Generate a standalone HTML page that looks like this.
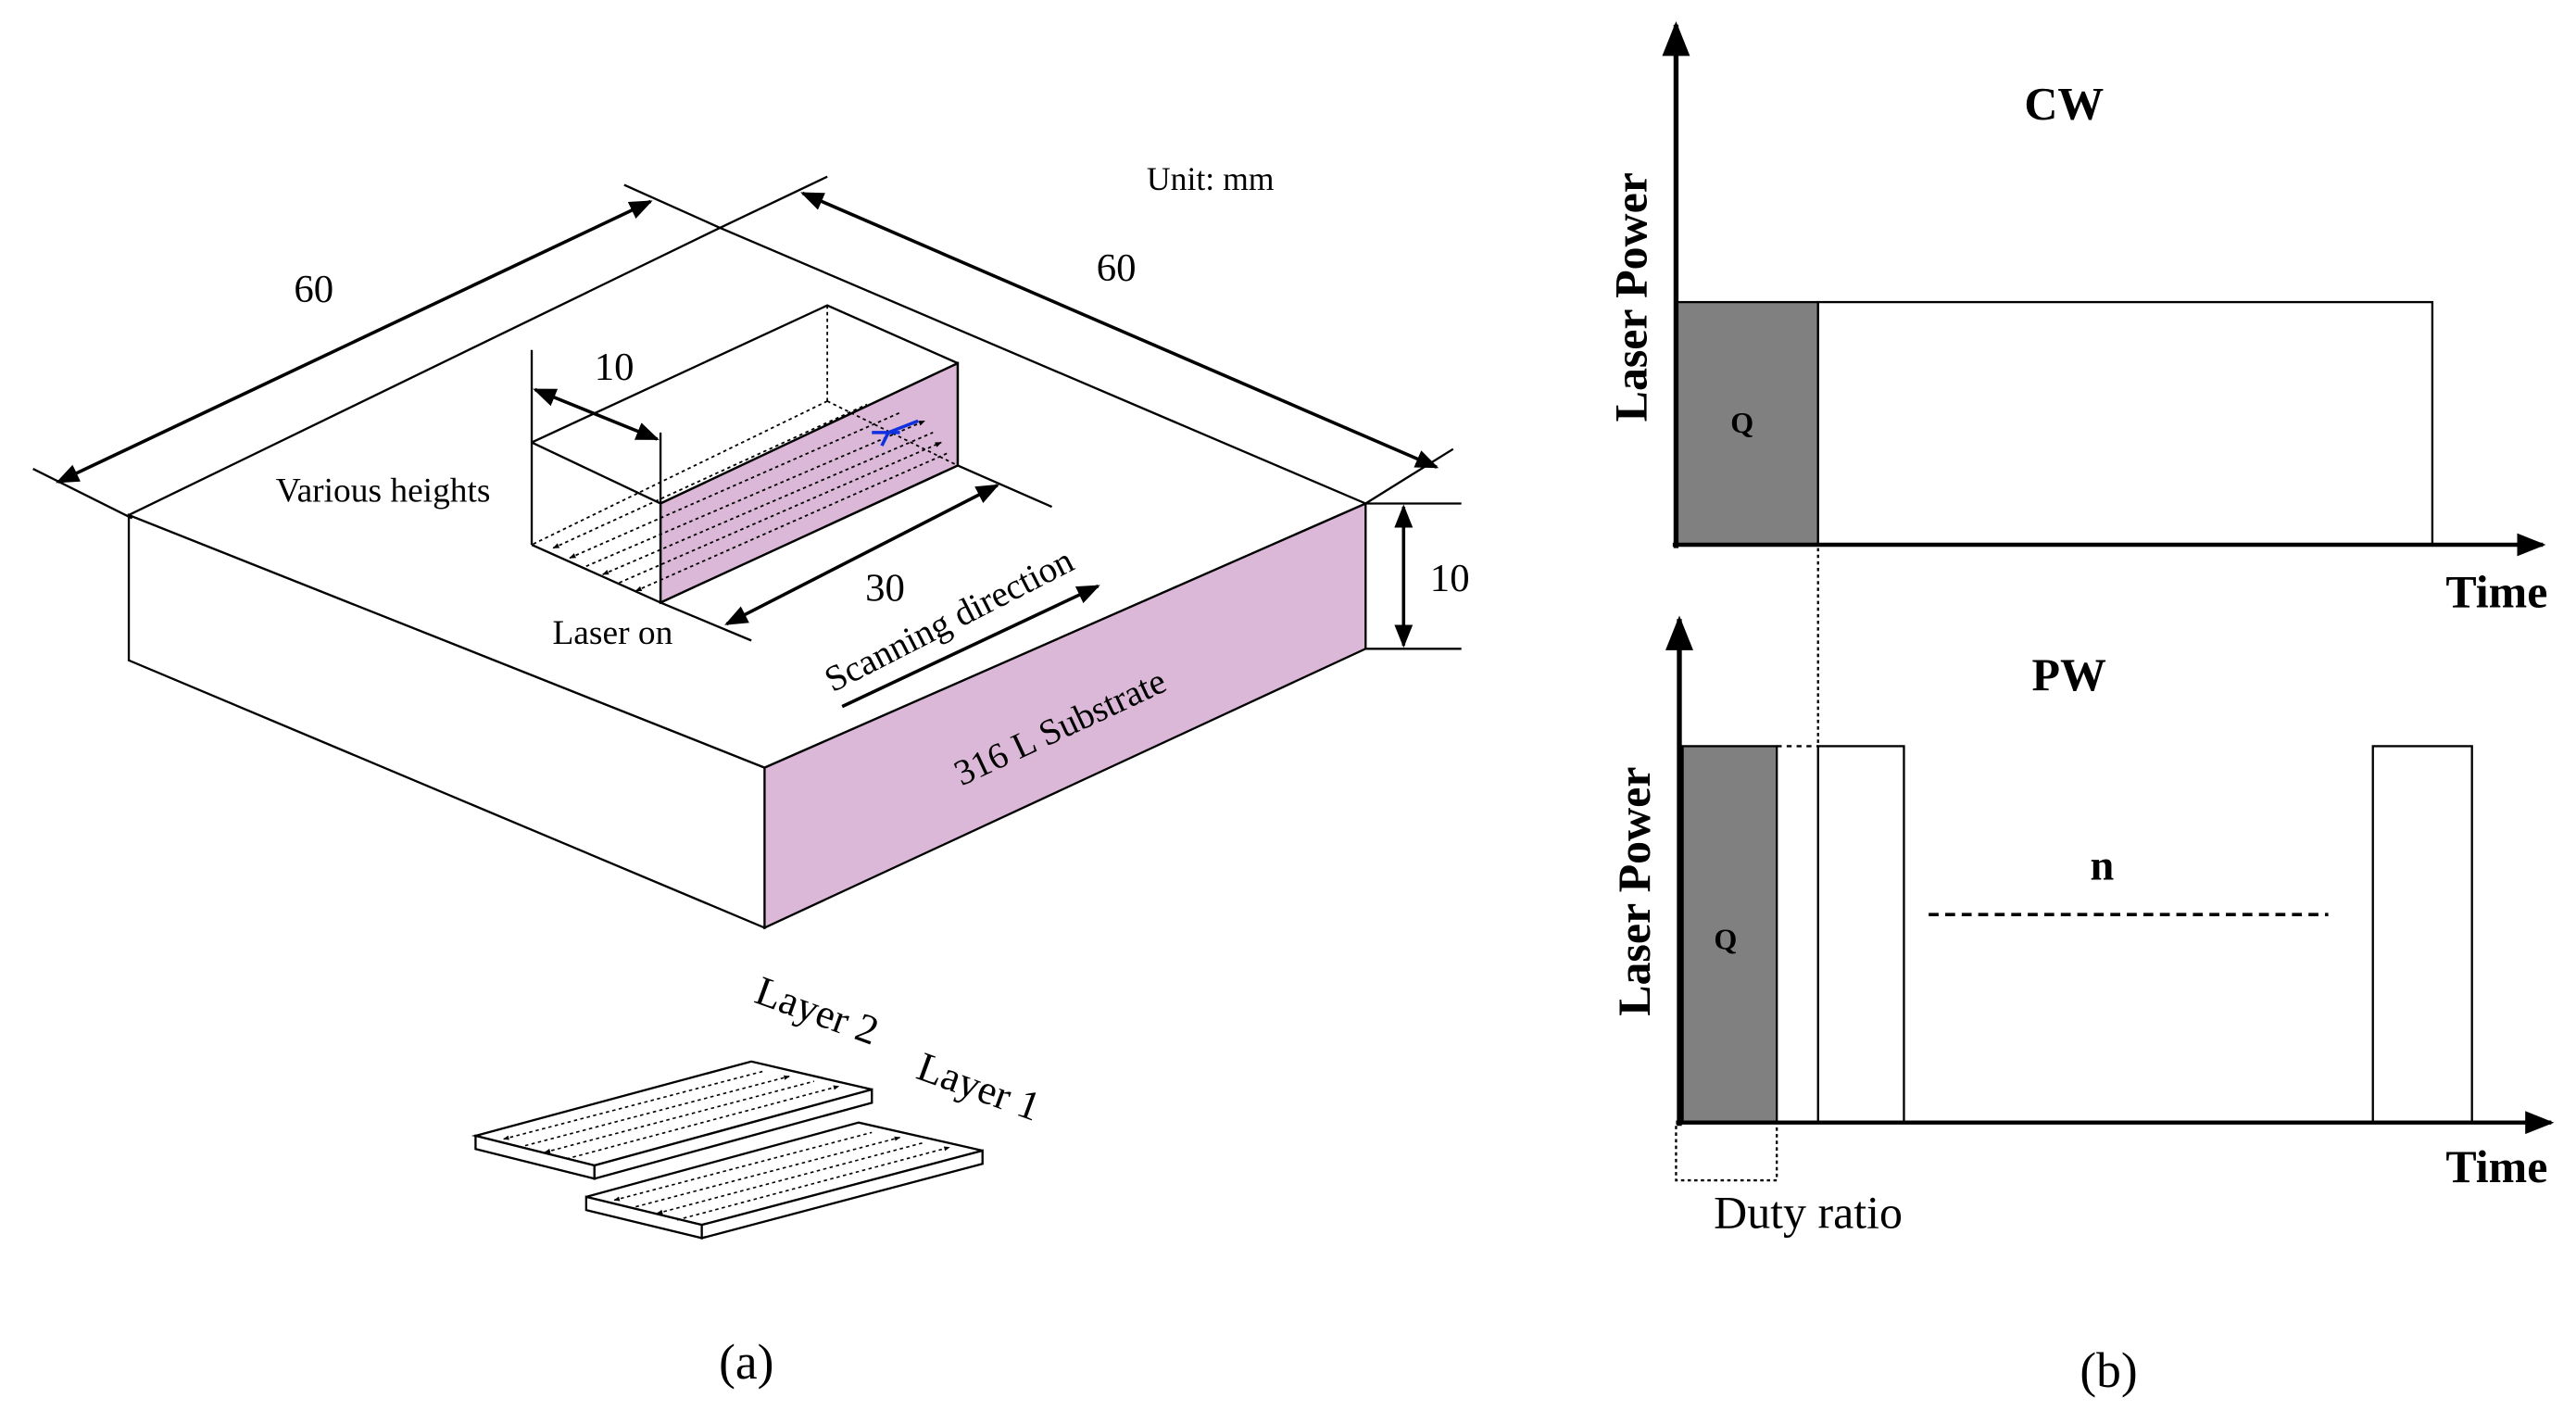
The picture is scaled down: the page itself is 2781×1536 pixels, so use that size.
<!DOCTYPE html>
<html><head><meta charset="utf-8"><style>
html,body{margin:0;padding:0;background:#fff;}
svg{display:block;}
text{font-family:"Liberation Serif",serif;fill:#000;}
</style></head><body>
<svg width="2781" height="1536" viewBox="0 0 1560 862" preserveAspectRatio="none" xmlns="http://www.w3.org/2000/svg">
<defs>
<marker id="ah" viewBox="0 0 10 10" refX="9" refY="5" markerWidth="7" markerHeight="7" orient="auto-start-reverse"><path d="M0,1 L10,5 L0,9 z" fill="#000"/></marker>
<marker id="as" viewBox="0 0 10 10" refX="9" refY="5" markerWidth="4" markerHeight="4" orient="auto-start-reverse"><path d="M0,1 L10,5 L0,9 z" fill="#000"/></marker>
</defs>
<rect width="1560" height="862" fill="#fff"/>
<g stroke="#000" stroke-width="1.3" fill="none">
<!-- substrate -->
<polygon points="463,465 827,305 827,393 463,562" fill="#dcb8d8"/>
<polygon points="78,312 463,465 463,562 78,400" fill="#fff"/>
<polygon points="78,312 436,138 827,305 463,465" fill="#fff"/>
<!-- extension lines -->
<line x1="436" y1="138" x2="501" y2="107"/>
<line x1="436" y1="138" x2="378" y2="112"/>
<line x1="20" y1="284" x2="80" y2="314"/>
<line x1="880" y1="272" x2="827" y2="305"/>
<!-- 60 dims -->
<line x1="35" y1="292" x2="394" y2="122" stroke-width="2" marker-start="url(#ah)" marker-end="url(#ah)"/>
<line x1="486" y1="117" x2="870" y2="283" stroke-width="2" marker-start="url(#ah)" marker-end="url(#ah)"/>
<!-- height dim -->
<line x1="827" y1="305" x2="885" y2="305"/>
<line x1="827" y1="393" x2="885" y2="393"/>
<line x1="850" y1="307" x2="850" y2="391" stroke-width="2" marker-start="url(#ah)" marker-end="url(#ah)"/>
<!-- inner block -->
<polygon points="400,305 580,220 580,282 400,365" fill="#dcb8d8"/>
<polyline points="322,268 501,185 580,220 580,282"/>
<line x1="322" y1="212" x2="322" y2="330"/>
<line x1="400" y1="262" x2="400" y2="365"/>
<line x1="322" y1="268" x2="400" y2="305"/>
<line x1="400" y1="305" x2="580" y2="220"/>
<line x1="322" y1="330" x2="400" y2="365"/>
<line x1="400" y1="365" x2="580" y2="282"/>
<g stroke-dasharray="2,2" stroke-width="1">
<line x1="501" y1="185" x2="501" y2="243"/>
<line x1="501" y1="243" x2="322" y2="330"/>
<line x1="501" y1="243" x2="580" y2="282"/>
<line x1="335" y1="332" x2="525" y2="245" marker-start="url(#as)"/>
<line x1="345" y1="338" x2="545" y2="250" marker-start="url(#as)"/>
<line x1="355" y1="343" x2="560" y2="255" marker-end="url(#as)"/>
<line x1="365" y1="348" x2="565" y2="262" marker-start="url(#as)"/>
<line x1="375" y1="353" x2="570" y2="268" marker-end="url(#as)"/>
<line x1="385" y1="358" x2="575" y2="274" marker-start="url(#as)"/>
</g>
<line x1="324" y1="236" x2="398" y2="266" stroke-width="2" marker-start="url(#ah)" marker-end="url(#ah)"/>
<g stroke="#1030e0" stroke-width="2"><line x1="528" y1="262" x2="545" y2="262"/><line x1="538" y1="262" x2="556" y2="255"/><line x1="538" y1="262" x2="534" y2="270"/></g>
<!-- 30 dim -->
<line x1="400" y1="365" x2="455" y2="388"/>
<line x1="580" y1="282" x2="637" y2="307"/>
<line x1="440" y1="378" x2="604" y2="294" stroke-width="2" marker-start="url(#ah)" marker-end="url(#ah)"/>
<line x1="510" y1="428" x2="665" y2="355" stroke-width="2" marker-end="url(#ah)"/>
<!-- layers -->
<polygon points="288,688 455,643 528,660 360,706" fill="#fff"/>
<polygon points="288,688 360,706 360,714 288,696" fill="#fff"/>
<polygon points="360,706 528,660 528,668 360,714" fill="#fff"/>
<polygon points="355,725 520,680 595,697 425,742" fill="#fff"/>
<polygon points="355,725 425,742 425,750 355,733" fill="#fff"/>
<polygon points="425,742 595,697 595,705 425,750" fill="#fff"/>
<g stroke-dasharray="2,2" stroke-width="0.9">
<line x1="305" y1="690" x2="462" y2="649" marker-start="url(#as)"/>
<line x1="318" y1="694" x2="478" y2="652" marker-end="url(#as)"/>
<line x1="330" y1="698" x2="493" y2="655" marker-start="url(#as)"/>
<line x1="343" y1="702" x2="508" y2="658" marker-end="url(#as)"/>
<line x1="372" y1="727" x2="528" y2="686" marker-start="url(#as)"/>
<line x1="385" y1="731" x2="545" y2="689" marker-end="url(#as)"/>
<line x1="398" y1="735" x2="560" y2="692" marker-start="url(#as)"/>
<line x1="410" y1="739" x2="575" y2="695" marker-end="url(#as)"/>
</g>
<!-- CW -->
<rect x="1015" y="183" width="86" height="147" fill="#808080"/>
<rect x="1101" y="183" width="372" height="147" fill="#fff"/>
<line x1="1015" y1="332" x2="1015" y2="15" stroke-width="3" marker-end="url(#ah)"/>
<line x1="1013" y1="330" x2="1540" y2="330" stroke-width="2.5" marker-end="url(#ah)"/>
<line x1="1101" y1="332" x2="1101" y2="452" stroke-dasharray="2,2"/>
<!-- PW -->
<rect x="1019" y="452" width="57" height="228" fill="#808080"/>
<line x1="1076" y1="452" x2="1101" y2="452" stroke-dasharray="3,3"/>
<rect x="1101" y="452" width="52" height="228" fill="#fff"/>
<rect x="1437" y="452" width="60" height="228" fill="#fff"/>
<line x1="1017" y1="682" x2="1017" y2="375" stroke-width="3" marker-end="url(#ah)"/>
<line x1="1015" y1="680" x2="1545" y2="680" stroke-width="2.5" marker-end="url(#ah)"/>
<line x1="1168" y1="554" x2="1410" y2="554" stroke-width="2" stroke-dasharray="6,4"/>
<polyline points="1015,682 1015,715 1076,715 1076,682" stroke-dasharray="2,2"/>
</g>
<g font-size="24">
<text x="190" y="183" text-anchor="middle">60</text>
<text x="676" y="170" text-anchor="middle">60</text>
<text x="733" y="115" text-anchor="middle" font-size="20">Unit: mm</text>
<text x="878" y="358" text-anchor="middle">10</text>
<text x="372" y="230" text-anchor="middle">10</text>
<text x="232" y="304" text-anchor="middle" font-size="21">Various heights</text>
<text x="371" y="390" text-anchor="middle" font-size="21">Laser on</text>
<text x="536" y="364" text-anchor="middle">30</text>
<text transform="translate(578,382) rotate(-27)" text-anchor="middle" font-size="22">Scanning direction</text>
<text transform="translate(645,447) rotate(-25)" text-anchor="middle" font-size="22">316 L Substrate</text>
<text transform="translate(492,620) rotate(20)" text-anchor="middle" font-size="25">Layer 2</text>
<text transform="translate(590,666) rotate(20)" text-anchor="middle" font-size="25">Layer 1</text>
<text x="452" y="835" text-anchor="middle" font-size="30">(a)</text>
<text x="1250" y="72" text-anchor="middle" font-weight="bold" font-size="28">CW</text>
<text transform="translate(997,180) rotate(-90)" text-anchor="middle" font-weight="bold" font-size="28">Laser Power</text>
<text x="1055" y="262" text-anchor="middle" font-weight="bold" font-size="18">Q</text>
<text x="1512" y="368" text-anchor="middle" font-weight="bold" font-size="28">Time</text>
<text transform="translate(999,540) rotate(-90)" text-anchor="middle" font-weight="bold" font-size="28">Laser Power</text>
<text x="1253" y="418" text-anchor="middle" font-weight="bold" font-size="28">PW</text>
<text x="1045" y="575" text-anchor="middle" font-weight="bold" font-size="18">Q</text>
<text x="1273" y="533" text-anchor="middle" font-weight="bold" font-size="26">n</text>
<text x="1512" y="716" text-anchor="middle" font-weight="bold" font-size="28">Time</text>
<text x="1095" y="744" text-anchor="middle" font-size="28">Duty ratio</text>
<text x="1277" y="840" text-anchor="middle" font-size="30">(b)</text>
</g>
</svg>
</body></html>
